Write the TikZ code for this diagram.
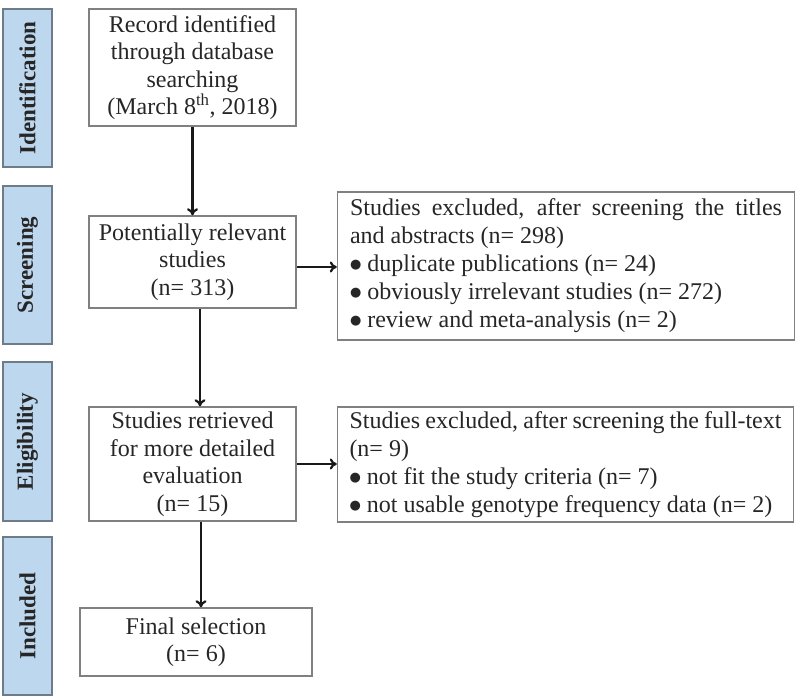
\documentclass[tikz,border=0pt]{standalone}
\usepackage{fontspec}
\setmainfont{Liberation Serif}
\newfontfamily\symfont{DejaVu Sans}
\usetikzlibrary{arrows.meta}
\definecolor{labfill}{HTML}{BDD7EE}
\definecolor{labdraw}{HTML}{6E7B88}
\definecolor{boxdraw}{HTML}{808080}
\newcommand\mybul{\raisebox{3pt}{\symfont\fontsize{13}{13}\selectfont ●}}
\begin{document}
\begin{tikzpicture}[x=1pt,y=-1pt,
  stage/.style={draw=labdraw,line width=1.5pt,fill=labfill,minimum width=49pt,minimum height=158pt,inner sep=0pt},
  stagetext/.style={rotate=90,font=\fontsize{23}{26}\selectfont\bfseries,text=black!85},
  flowbox/.style={draw=boxdraw,line width=1.5pt,align=center,inner sep=0pt,font=\fontsize{24}{27.5}\selectfont,text=black!85},
  exbox/.style={draw=boxdraw,line width=1.5pt,align=justify,inner sep=0pt,font=\fontsize{24}{28}\selectfont,text=black!85},
  arr/.style={-{To[length=7pt,width=11pt]},line width=2.2pt,black!90}]
\useasboundingbox (0,0) rectangle (800,699);
% stage labels
\node[stage] (s1) at (27.5,88) {};
\node[stagetext] at (s1) {Identification};
\node[stage] (s2) at (27.5,265) {};
\node[stagetext] at (s2) {Screening};
\node[stage,minimum height=159pt] (s3) at (27.5,441.5) {};
\node[stagetext] at (s3) {Eligibility};
\node[stage] (s4) at (27.5,616) {};
\node[stagetext] at (s4) {Included};
% main boxes
\node[flowbox,minimum width=207pt,minimum height=117pt] (b1) at (192.5,67.5)
  {Record identified\\through database\\searching\\(March 8\textsuperscript{th}, 2018)};
\node[flowbox,minimum width=207pt,minimum height=92pt] (b2) at (192.5,262)
  {Potentially relevant\\studies\\(n= 313)};
\node[flowbox,minimum width=207pt,minimum height=114pt] (b3) at (192.5,464)
  {Studies retrieved\\for more detailed\\evaluation\\(n= 15)};
\node[flowbox,minimum width=232pt,minimum height=68pt] (b4) at (196,642)
  {Final selection\\(n= 6)};
% exclusion boxes
\node[exbox,minimum width=457pt,minimum height=148pt,text width=432pt] (e1) at (566,266)
  {\hyphenpenalty=10000 Studies excluded, after screening the titles\linebreak and abstracts (n= 298)\\
   \mybul{} duplicate publications (n= 24)\\
   \mybul{} obviously irrelevant studies (n= 272)\\
   \mybul{} review and meta-analysis (n= 2)};
\node[exbox,minimum width=456pt,minimum height=115pt,text width=432pt] (e2) at (565.5,464.5)
  {\hyphenpenalty=10000 Studies excluded, after screening the full-text\\
   (n= 9)\\
   \mybul{} not fit the study criteria (n= 7)\\
   \mybul{} not usable genotype frequency data (n= 2)};
% connectors
\draw[arr] (b1) -- (b2);
\draw[arr] ([xshift=7.5pt]b2.south) -- ([xshift=7.5pt]b2.south |- b3.north);
\draw[arr] ([xshift=8.5pt]b3.south) -- ([xshift=8.5pt]b3.south |- b4.north);
\draw[arr] ([yshift=-5pt]b2.east) -- ([yshift=-5pt]b2.east -| e1.west);
\draw[arr] (b3.east) -- (b3.east -| e2.west);
\end{tikzpicture}
\end{document}
